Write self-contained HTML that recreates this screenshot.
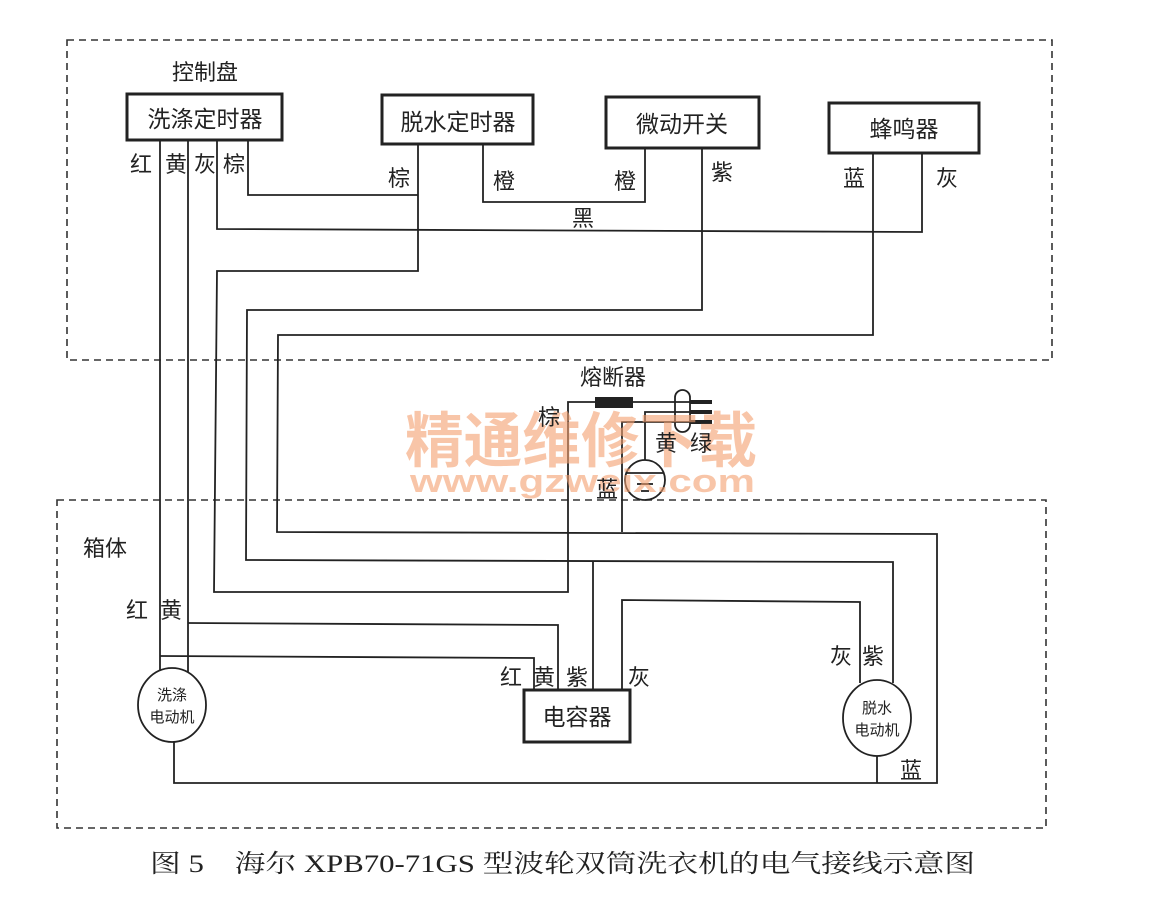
<!DOCTYPE html>
<html><head><meta charset="utf-8"><style>
html,body{margin:0;padding:0;background:#fff;}
svg{display:block;}
text{font-family:"Liberation Sans","Noto Sans CJK SC",sans-serif;fill:#222;}
.s{font-family:"Liberation Serif","Noto Serif CJK SC",serif;}
</style></head><body>
<svg width="1164" height="905" viewBox="0 0 1164 905" xmlns="http://www.w3.org/2000/svg">
<rect width="1164" height="905" fill="#fff"/>
<g fill="none" stroke="#333" stroke-width="1.6" stroke-dasharray="7,5">
<rect x="67" y="40" width="985" height="320"/>
<rect x="57" y="500" width="989" height="328"/>
</g>
<g fill="#fff" stroke="#222" stroke-width="3">
<rect x="127" y="94" width="155" height="46"/>
<rect x="382" y="95" width="151" height="49"/>
<rect x="606" y="97" width="153" height="51"/>
<rect x="829" y="103" width="150" height="50"/>
<rect x="524" y="690" width="106" height="52"/>
</g>
<g font-size="23" text-anchor="middle">
<text x="205" y="127">洗涤定时器</text>
<text x="458" y="130">脱水定时器</text>
<text x="682" y="132">微动开关</text>
<text x="904" y="137">蜂鸣器</text>
<text x="577" y="725">电容器</text>
</g>
<g fill="none" stroke="#222" stroke-width="1.8">
<polyline points="160,140 160,670"/>
<polyline points="188,140 188,672"/>
<polyline points="217,140 217,229 922,232 922,153"/>
<polyline points="248,140 248,195 418,195"/>
<polyline points="418,144 418,271 217,271 214,592 568,592 568,402 598,402"/>
<polyline points="483,144 483,202 645,202 645,148"/>
<polyline points="702,148 702,310 247,310 246,560 893,562 893,683"/>
<polyline points="873,153 873,335 278,335 277,532 937,534 937,783 174,783 174,742"/>
<polyline points="877,756 877,783"/>
<polyline points="188,623 558,625 558,690"/>
<polyline points="160,656 534,658 534,690"/>
<polyline points="593,562 593,690"/>
<polyline points="622,690 622,600 860,602 860,683"/>
<polyline points="633,402 690,402"/>
<polyline points="690,412 645,412 645,460"/>
<polyline points="690,422 622,422 622,532"/>
<rect x="675" y="390" width="15" height="42" rx="7.5"/>
<circle cx="645" cy="480" r="20"/>
<line x1="627" y1="473" x2="663" y2="473"/>
<line x1="637" y1="484" x2="653" y2="484"/>
<line x1="641" y1="491" x2="649" y2="491"/>
<ellipse cx="172" cy="705" rx="34" ry="37" fill="#fff"/>
<ellipse cx="877" cy="718" rx="34" ry="38" fill="#fff"/>
</g>
<rect x="595" y="397" width="38" height="11" fill="#222"/>
<g stroke="#222" stroke-width="4">
<line x1="690" y1="402" x2="712" y2="402"/>
<line x1="690" y1="412" x2="712" y2="412"/>
<line x1="690" y1="422" x2="712" y2="422"/>
</g>
<g opacity="0.6" font-weight="bold">
<text x="405" y="462" font-size="60" textLength="352" lengthAdjust="spacingAndGlyphs" style="fill:#f4a070">精通维修下载</text>
<text x="410" y="492" font-size="32" textLength="345" lengthAdjust="spacingAndGlyphs" style="fill:#f4a070">www.gzweix.com</text>
</g>
<g font-size="22">
<text x="172" y="80">控制盘</text>
<text x="83" y="556">箱体</text>
<text x="130" y="172">红</text><text x="165" y="172">黄</text><text x="194" y="172">灰</text><text x="223" y="172">棕</text>
<text x="388" y="186">棕</text>
<text x="493" y="189">橙</text><text x="614" y="189">橙</text>
<text x="711" y="180">紫</text>
<text x="843" y="186">蓝</text><text x="936" y="186">灰</text>
<text x="572" y="226">黑</text>
<text x="580" y="385">熔断器</text>
<text x="538" y="425">棕</text>
<text x="655" y="451">黄</text><text x="690" y="451">绿</text>
<text x="596" y="497">蓝</text>
<text x="126" y="618">红</text><text x="160" y="618">黄</text>
<text x="500" y="685">红</text><text x="533" y="685">黄</text><text x="566" y="685">紫</text>
<text x="628" y="685">灰</text>
<text x="830" y="664">灰</text><text x="862" y="664">紫</text>
<text x="900" y="778">蓝</text>
</g>
<g font-size="15" text-anchor="middle">
<text x="172" y="700">洗涤</text><text x="172" y="722">电动机</text>
<text x="877" y="713">脱水</text><text x="877" y="735">电动机</text>
</g>
<text class="s" x="150" y="872" font-size="25" textLength="825" lengthAdjust="spacingAndGlyphs">图 5　海尔 XPB70-71GS 型波轮双筒洗衣机的电气接线示意图</text>
</svg>
</body></html>
